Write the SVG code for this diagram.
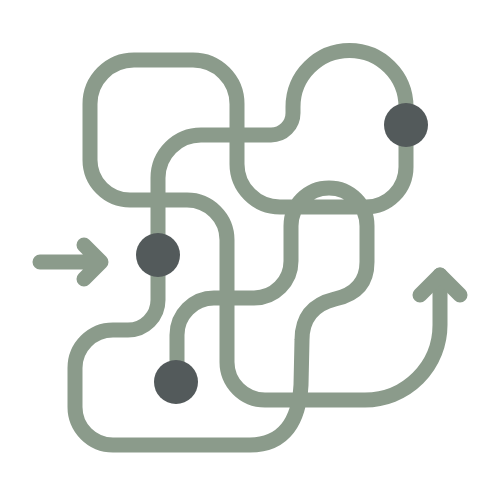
<svg xmlns="http://www.w3.org/2000/svg" width="500" height="500" viewBox="0 0 500 500">
<style>
.p{fill:none;stroke:#8b9b8b;stroke-width:15;stroke-linecap:round;stroke-linejoin:round}
.n{fill:#535a5b}
</style>
<rect width="500" height="500" fill="#ffffff"/>
<g id="connectors">
<path class="p" d="M40 262 L100 262 M84 245 L101 262 L84 279"/>
<path class="p" d="M177 383 L177 335 A37 37 0 0 1 214 298 L254 298 A37 37 0 0 0 291 261 L291 226 A38 38 0 0 1 367 226 L367 262 Q367 292 335 299 Q302 307 302 340 L301 385 C299 420 285 445 250 445 L113 445 A38 38 0 0 1 75 407 L75 368 A38 38 0 0 1 113 330 L128 330 A30 30 0 0 0 158 300 L158 178 A43 43 0 0 1 201 135 L271 135 A22 22 0 0 0 293 113 L293 107 A56.5 56.5 0 0 1 406 107 L406 167 A40 40 0 0 1 366 207 L280 207 A43 43 0 0 1 237 164 L237 104 A44 44 0 0 0 193 60 L134 60 A44 44 0 0 0 90 104 L90 160 A40 40 0 0 0 130 200 L187 200 A40 40 0 0 1 227 240 L227 362 A38 38 0 0 0 265 400 L365 400 A75 75 0 0 0 440 325 L440 275"/>
<path class="p" d="M420 295 L440 275 L460 295"/>
</g>
<g id="node1"><circle class="n" cx="406" cy="125" r="22"/></g>
<g id="node2"><circle class="n" cx="158" cy="255" r="22"/></g>
<g id="node3"><circle class="n" cx="176" cy="382" r="22"/></g>
</svg>
